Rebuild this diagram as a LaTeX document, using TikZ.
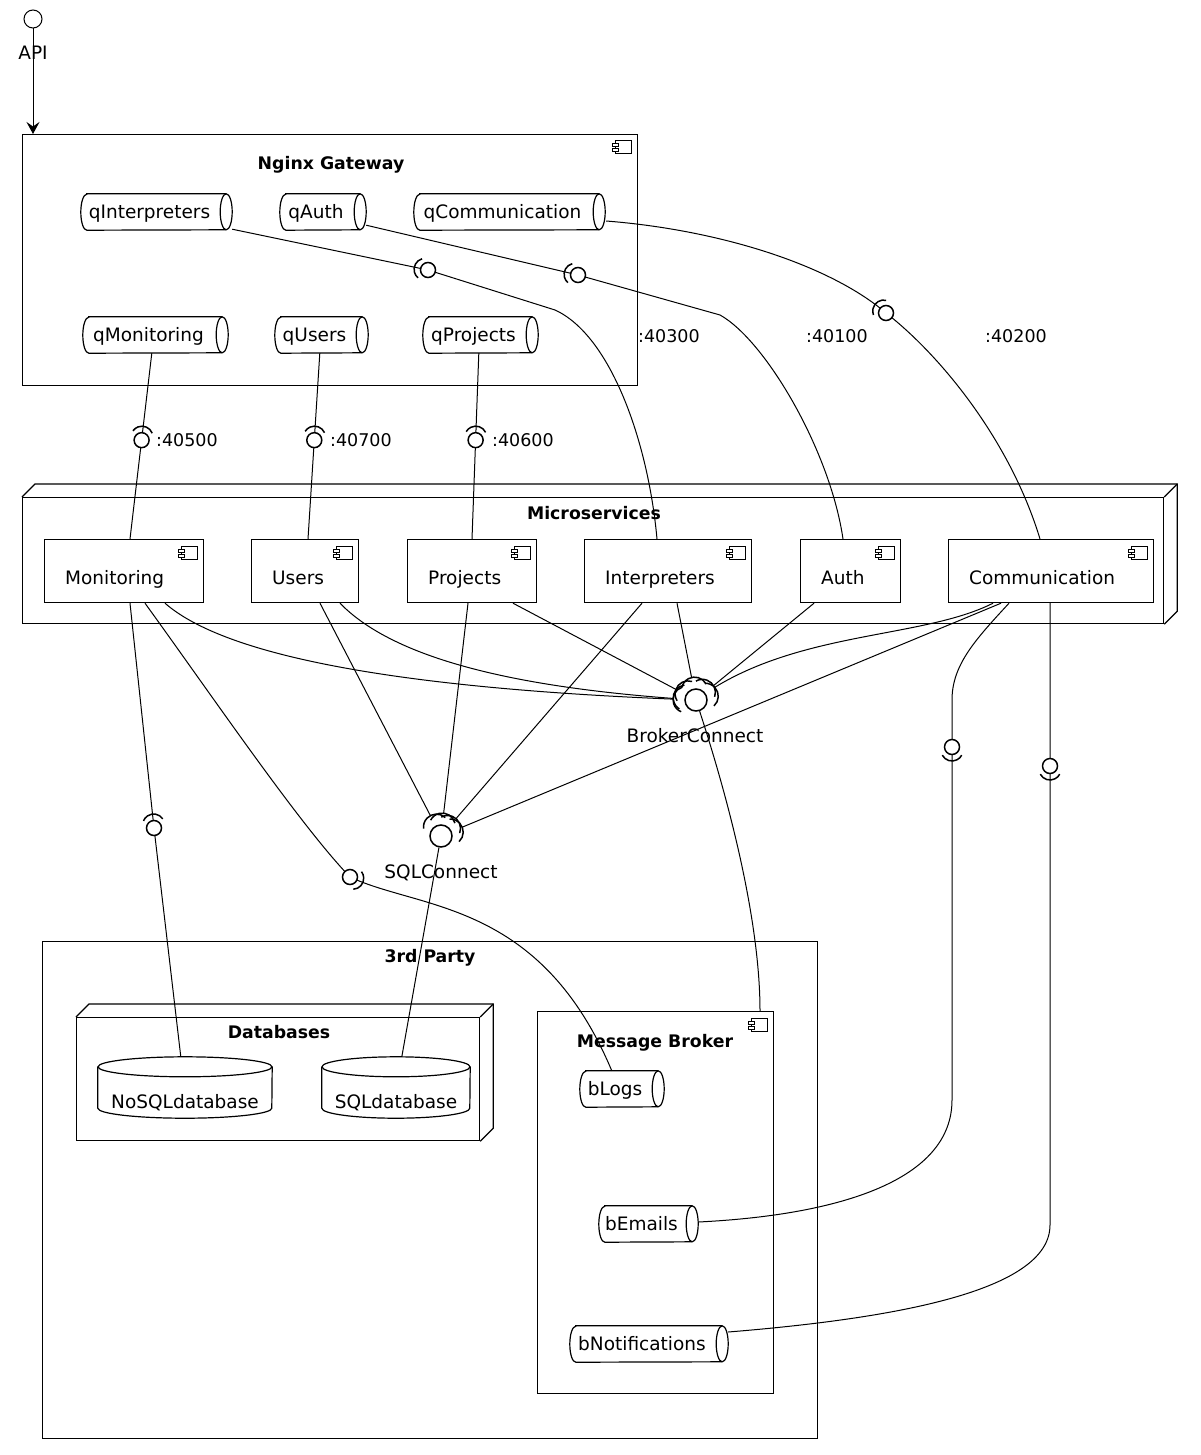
\documentclass[tikz,border=0pt]{standalone}
\usepackage{fontspec}
\setmainfont{DejaVu Sans}
\usetikzlibrary{arrows.meta,calc,fit}

\newcommand\qshape[6]{% name x1 y1 x2 y2 text
  \coordinate (#1-a) at (#2,#3);
  \coordinate (#1-b) at (#4,#5);
  \node[fit=(#1-a)(#1-b), inner sep=0pt] (#1) {};
  \draw[boxline] ([xshift=6pt]#1.north west) -- ([xshift=-6pt]#1.north east)
     arc[start angle=90, end angle=-90, x radius=6pt, y radius=18pt]
     -- ([xshift=6pt]#1.south west)
     arc[start angle=270, end angle=90, x radius=6pt, y radius=18pt] -- cycle;
  \draw[boxline] ([xshift=-6pt]#1.north east) arc[start angle=90, end angle=270, x radius=6pt, y radius=18pt];
  \node[txt, anchor=base] at ($(#1.center)+(-7,6.5)$) {#6};
}
\newcommand\cyl[7]{% name x1 y1 x2 y2 text xradius
  \coordinate (#1-a) at (#2,#3);
  \coordinate (#1-b) at (#4,#5);
  \node[fit=(#1-a)(#1-b), inner sep=0pt] (#1) {};
  \draw[boxline] ($(#1.north)+(0,10)$) ellipse[x radius=#7pt, y radius=10pt];
  \draw[boxline] ($(#1.north west)+(0,10)$) -- ($(#1.south west)+(0,-10)$)
     arc[start angle=180, end angle=360, x radius=#7pt, y radius=10pt] -- ($(#1.north east)+(0,10)$);
  \node[txt, anchor=base] at ($(#1.south)+(0,-10)$) {#6};
}
\newcommand\compicon[1]{%
  \draw[iconline] ($(#1.north east)+(-23,7)$) rectangle ($(#1.north east)+(-7,20)$);
  \draw[iconline, fill=white] ($(#1.north east)+(-26,10)$) rectangle ($(#1.north east)+(-20,13)$);
  \draw[iconline, fill=white] ($(#1.north east)+(-26,15)$) rectangle ($(#1.north east)+(-20,18)$);
}
\newcommand\threed[1]{%
  \draw[boxline] (#1.north west) -- ++(13,-13) -- ($(#1.north east)+(13,-13)$) -- ($(#1.south east)+(13,-13)$) -- (#1.south east);
  \draw[boxline] (#1.north east) -- ++(13,-13);
}
% socket: node, direction angle, centre offset, radius, half span
\newcommand\sock[5]{%
  \draw[sockline] (#1.center) ++(#2:#3) ++({#2-#5}:#4) arc[start angle={#2-#5}, end angle={#2+#5}, radius=#4];
}

\begin{document}
\begin{tikzpicture}[x=1pt, y=-1pt,
  boxline/.style={line width=1.2pt},
  conn/.style={line width=1pt},
  iconline/.style={line width=1pt},
  sockline/.style={line width=1.5pt},
  ball/.style={circle, draw, fill=white, line width=1.5pt, minimum size=15pt, inner sep=0pt},
  bigball/.style={ball, minimum size=22pt},
  txt/.style={font=\fontsize{18.5pt}{22pt}\selectfont, inner sep=0pt},
  ttl/.style={font=\bfseries\fontsize{17.3pt}{21pt}\selectfont, inner sep=0pt, anchor=base},
  prt/.style={font=\fontsize{17.5pt}{21pt}\selectfont, inner sep=0pt, anchor=base west},
  frame/.style={draw, boxline, anchor=north west, inner sep=0pt},
  comp/.style={frame, minimum height=63pt},
]
\fill[white] (0,0) rectangle (1200,1455);
\useasboundingbox (0,0) rectangle (1200,1455);

% ---------- containers ----------
\node[frame, minimum width=615pt, minimum height=251pt] (gw) at (22,134) {};
\compicon{gw}
\node[ttl] at (331,170) {Nginx Gateway};

\node[frame, minimum width=1141pt, minimum height=126pt] (ms) at (22,497) {};
\threed{ms}
\node[ttl] at (594,519) {Microservices};

\node[frame, minimum width=775pt, minimum height=497pt] (tp) at (42,941) {};
\node[ttl] at (430,962) {3rd Party};

\node[frame, minimum width=403pt, minimum height=123pt] (db) at (76,1017) {};
\threed{db}
\node[ttl] at (279,1038) {Databases};

\node[frame, minimum width=236pt, minimum height=382pt] (mb) at (537,1011) {};
\compicon{mb}
\node[ttl] at (655,1047) {Message Broker};

% ---------- components ----------
\node[comp, minimum width=159pt] (mon) at (44,539) {};
\node[comp, minimum width=107pt] (usr) at (251,539) {};
\node[comp, minimum width=129pt] (prj) at (407,539) {};
\node[comp, minimum width=167pt] (itp) at (584,539) {};
\node[comp, minimum width=100pt] (ath) at (800,539) {};
\node[comp, minimum width=205pt] (com) at (948,539) {};
\foreach \n/\t in {mon/Monitoring, usr/Users, prj/Projects, itp/Interpreters, ath/Auth, com/Communication}{
  \compicon{\n}
  \node[txt, anchor=base west] at ($(\n.south west)+(21,-19)$) {\t};
}

% ---------- queues ----------
\qshape{qItp}{81}{194}{232}{230}{qInterpreters}
\qshape{qAuth}{280}{194}{366}{230}{qAuth}
\qshape{qCom}{414}{194}{605}{230}{qCommunication}
\qshape{qMon}{83}{317}{228}{353}{qMonitoring}
\qshape{qUsr}{275}{317}{368}{353}{qUsers}
\qshape{qPrj}{423}{317}{538}{353}{qProjects}
\qshape{bLogs}{580}{1071}{664}{1107}{bLogs}
\qshape{bEm}{599}{1206}{698}{1242}{bEmails}
\qshape{bNot}{570}{1326}{728}{1362}{bNotifications}

% ---------- databases ----------
\cyl{nosql}{98}{1057}{272}{1118}{NoSQLdatabase}{87}
\cyl{sqldb}{322}{1057}{470}{1118}{SQLdatabase}{74}

% ---------- API ----------
\node[circle, draw, line width=1pt, minimum size=18pt, inner sep=0pt] (api) at (33,19) {};
\node[txt, anchor=base] at (33,60) {API};
\draw[conn, -{Stealth[length=12pt, width=13pt, inset=4.5pt]}] (api) -- ($(gw.north west)+(11,0)$);

% ---------- connection points ----------
\coordinate (qMonB) at ($(qMon.south west)+(69,0)$);
\coordinate (monT)  at ($(mon.north west)+(86,0)$);
\coordinate (qUsrB) at ($(qUsr.south west)+(45,0)$);
\coordinate (usrT)  at ($(usr.north west)+(57,0)$);
\coordinate (qPrjB) at ($(qPrj.south west)+(56,0)$);
\coordinate (prjT)  at ($(prj.north west)+(65,0)$);
\coordinate (qItpP) at ($(qItp.south east)+(0,-1)$);
\coordinate (itpT)  at ($(itp.north west)+(73,0)$);
\coordinate (qAuthP) at ($(qAuth.south east)+(0,-5)$);
\coordinate (athT)  at ($(ath.north west)+(43,0)$);
\coordinate (qComP) at ($(qCom.east)+(1,9)$);
\coordinate (comT)  at ($(com.north west)+(92,0)$);

\coordinate (monB1) at ($(mon.south west)+(86,0)$);
\coordinate (monB2) at ($(mon.south west)+(101,0)$);
\coordinate (monB3) at ($(mon.south west)+(121,0)$);
\coordinate (usrB1) at ($(usr.south west)+(69,0)$);
\coordinate (usrB2) at ($(usr.south west)+(89,0)$);
\coordinate (prjB1) at ($(prj.south west)+(61,0)$);
\coordinate (prjB2) at ($(prj.south west)+(106,0)$);
\coordinate (itpB1) at ($(itp.south west)+(58,0)$);
\coordinate (itpB2) at ($(itp.south west)+(93,0)$);
\coordinate (athB)  at ($(ath.south west)+(14,0)$);
\coordinate (comB1) at ($(com.south west)+(45,0)$);
\coordinate (comB2) at ($(com.south west)+(53,0)$);
\coordinate (comB3) at ($(com.south west)+(61,0)$);
\coordinate (comB4) at ($(com.south west)+(102,0)$);

\coordinate (nosqlT) at ($(nosql.north west)+(83,0)$);
\coordinate (sqlT)   at ($(sqldb.north west)+(80,0)$);
\coordinate (logsT)  at ($(bLogs.north west)+(32,0)$);
\coordinate (emE)    at ($(bEm.east)+(0,-2)$);
\coordinate (notE)   at ($(bNot.east)+(0,-12)$);
\coordinate (mbT)    at ($(mb.north west)+(223,0)$);

\coordinate (bcc) at (696,700);
\coordinate (scc) at (441,836);
\coordinate (pItpC) at (428,270);
\coordinate (pAuthC) at (578,275);
\coordinate (pComC) at (886,313);
\coordinate (pNoC) at (154,828);
\coordinate (pLogsC) at (350,877);
\coordinate (pEmC) at (952,747);
\coordinate (pNotC) at (1050,766);

% ---------- gateway -> services ----------
\draw[conn] (qMonB) -- (monT);
\draw[conn] (qUsrB) -- (usrT);
\draw[conn] (qPrjB) -- (prjT);
\draw[conn] (qItpP) -- (pItpC) -- (555,310) .. controls (610,335) and (648,440) .. (itpT);
\draw[conn] (qAuthP) -- (pAuthC) -- (720,315) .. controls (765,340) and (830,450) .. (athT);
\draw[conn] (qComP) .. controls (720,230) and (830,265) .. (pComC)
                     .. controls (940,355) and (1010,440) .. (comT);

% ---------- services -> interfaces ----------
\draw[conn] (monB1) -- (pNoC) -- (nosqlT);
\draw[conn] (monB2) .. controls (215,700) and (300,825) .. (pLogsC)
                     .. controls (420,910) and (540,900) .. (logsT);
\draw[conn] (monB3) .. controls (230,660) and (420,690) .. (bcc);
\draw[conn] (usrB1) -- (scc);
\draw[conn] (usrB2) .. controls (400,665) and (540,690) .. (bcc);
\draw[conn] (prjB1) -- (scc);
\draw[conn] (prjB2) -- (bcc);
\draw[conn] (itpB1) -- (scc);
\draw[conn] (itpB2) -- (bcc);
\draw[conn] (athB) -- (bcc);
\draw[conn] (comB1) .. controls (920,640) and (790,630) .. (bcc);
\draw[conn] (comB2) -- (scc);
\draw[conn] (comB3) .. controls (975,640) and (952,665) .. (952,700) -- (pEmC) -- (952,1100)
                     .. controls (952,1180) and (840,1215) .. (emE);
\draw[conn] (comB4) -- (pNotC) -- (1050,1225) .. controls (1050,1290) and (900,1318) .. (notE);

% ---------- provided interfaces ----------
\fill[white] (bcc) circle[radius=22.5pt];
\fill[white] (scc) circle[radius=22.5pt];
\node[bigball] (bc) at (bcc) {};
\node[bigball] (sc) at (scc) {};
\foreach \a in {178,168,142,98,50,22}{\sock{bc}{\a}{10pt}{13pt}{70}}
\foreach \a in {117,83,49,23}{\sock{sc}{\a}{10pt}{13pt}{70}}
\draw[conn] (bc) .. controls (735,820) and (760,930) .. (mbT);
\draw[conn] (sc) -- (sqlT);
\node[txt, anchor=base] at (695,742) {BrokerConnect};
\node[txt, anchor=base] at (441,878) {SQLConnect};

% ---------- lollipops ----------
\node[ball] (pMon) at ($(qMonB)!0.468!(monT)$) {};
\node[ball] (pUsr) at ($(qUsrB)!0.468!(usrT)$) {};
\node[ball] (pPrj) at ($(qPrjB)!0.468!(prjT)$) {};
\node[ball] (pItp) at (pItpC) {};
\node[ball] (pAuth) at (pAuthC) {};
\node[ball] (pCom) at (pComC) {};
\node[ball] (pNo) at (pNoC) {};
\node[ball] (pLogs) at (pLogsC) {};
\node[ball] (pEm) at (pEmC) {};
\node[ball] (pNot) at (pNotC) {};
\foreach \n/\a in {pMon/83, pUsr/86, pPrj/88, pItp/168, pAuth/167, pCom/139, pNo/96, pLogs/-25, pEm/-90, pNot/-90}{
  \sock{\n}{\a}{3pt}{11pt}{62}
}

% ---------- port labels ----------
\node[prt] at (156,446) {:40500};
\node[prt] at (330,446) {:40700};
\node[prt] at (492,446) {:40600};
\node[prt] at (638,342) {:40300};
\node[prt] at (806,342) {:40100};
\node[prt] at (985,342) {:40200};
\end{tikzpicture}
\end{document}
